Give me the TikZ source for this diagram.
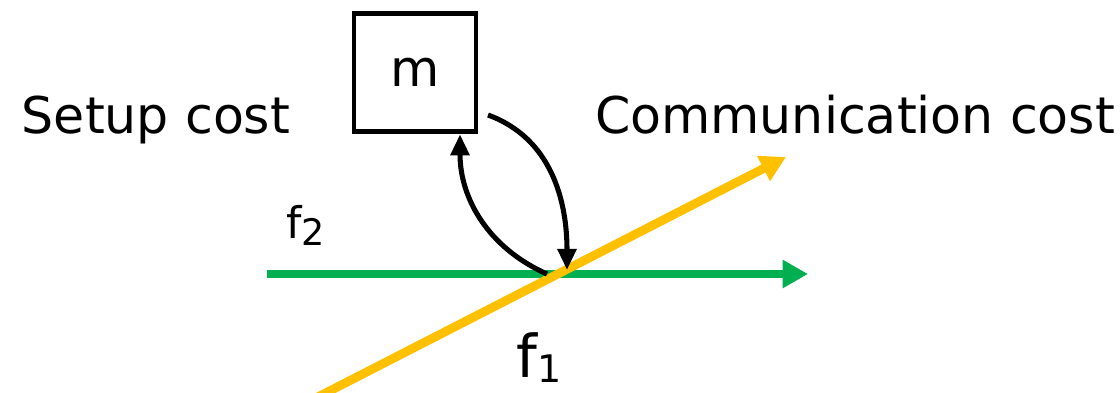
\documentclass[tikz,border=0pt]{standalone}
\usepackage{fontspec}
\setmainfont{DejaVu Sans}
\usepackage{xcolor}
\usetikzlibrary{arrows.meta, positioning}
\definecolor{setgreen}{HTML}{00B050}
\definecolor{commgold}{HTML}{FFC000}

\begin{document}
\begin{tikzpicture}[
    lbl/.style={font=\fontsize{36}{40}\selectfont, inner sep=0pt},
    box/.style={draw, line width=3.5pt, minimum width=3.05cm, minimum height=2.95cm,
                font=\fontsize{36}{40}\selectfont},
    flow/.style={-{Triangle[length=15pt, width=13pt]}, line width=3.6pt},
    axis/.style={-{Triangle[length=18pt, width=19pt]}, line width=6.3pt},
]
\useasboundingbox (0,0) rectangle (28,9.8);
\node[box] (mach) at (10.375,7.98) {\raisebox{-3pt}{m}};
\node[lbl, anchor=base] (setup) at (3.9,6.475) {Setup cost};
\node[lbl, anchor=base] (comm) at (21.375,6.475) {Communication cost};
\node[inner sep=0pt, anchor=base west, font=\fontsize{31}{34}\selectfont] (ftwo) at (7.15,3.85)
   {f\raisebox{-5pt}{\fontsize{26}{28}\selectfont 2}};
\node[inner sep=0pt, anchor=base west, font=\fontsize{42}{46}\selectfont] (fone) at (12.9,0.375)
   {f\raisebox{-4pt}{\fontsize{27}{30}\selectfont 1}};
\coordinate (gstart) at (6.675,2.95);
\coordinate (gend) at (20.2,2.95);
\coordinate (ostart) at (7.8,-0.2);
\coordinate (oend) at (19.65,5.875);
\coordinate (cross) at (13.95,2.95);
\coordinate (mout) at (12.2,6.925);
\draw[axis, setgreen] (gstart) -- (gend);
\draw[axis, commgold] (ostart) -- (oend);
\draw[flow] (mout) to[out=-20, in=90] ([xshift=0.225cm, yshift=0.1cm]cross);
\draw[flow] ([xshift=-0.275cm]cross) to[out=156, in=-90] ([xshift=1.125cm]mach.south);
\end{tikzpicture}
\end{document}
